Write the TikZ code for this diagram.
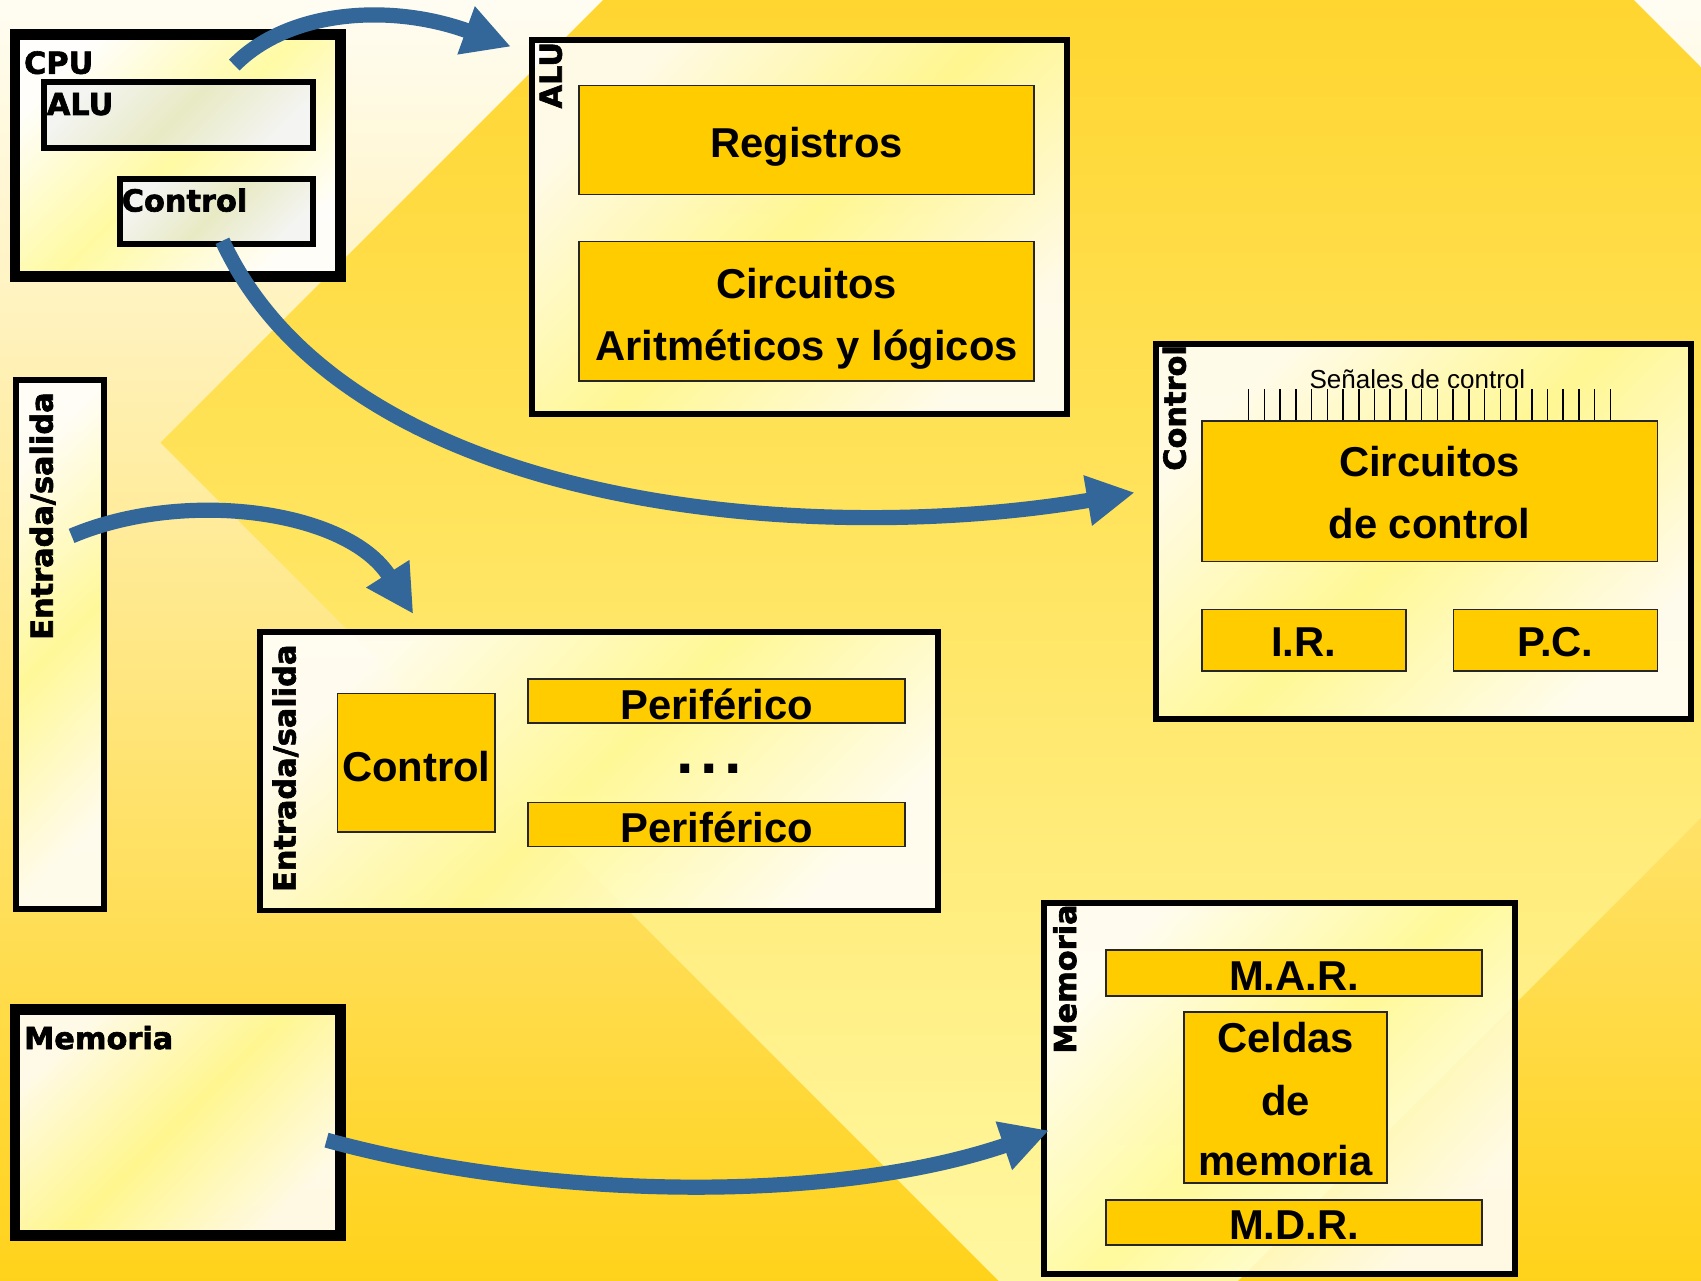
\documentclass[tikz,border=0pt]{standalone}
\usepackage{fontspec}
\setmainfont{Liberation Sans}
\newfontfamily\dvfont{DejaVu Sans}[BoldFeatures={FakeBold=2}]
\usetikzlibrary{arrows.meta,shadings}
\definecolor{gold}{HTML}{FFCC00}
\definecolor{flowblue}{HTML}{336699}
\definecolor{bgtop}{HTML}{FFFDF3}
\definecolor{bgbot}{HTML}{FFD21A}
\definecolor{dmtop}{HTML}{FFD630}
\definecolor{dmbot}{HTML}{FFF7A0}
\definecolor{panelmid}{HTML}{FFFB9C}
\definecolor{graya}{HTML}{E8EAC4}
\definecolor{grayb}{HTML}{F4F4F2}
\tikzset{
  panel/.style={draw=black, line width=5.5pt, top color=white, bottom color=white,
    middle color=panelmid, shading angle=45, fill opacity=0.88, draw opacity=1, inner sep=0pt},
  thickpanel/.style={panel, line width=10pt},
  graybox/.style={draw=black, line width=5.5pt, top color=grayb, bottom color=grayb,
    middle color=graya, shading angle=45, inner sep=0pt},
  goldbox/.style={draw=black!85, line width=1.5pt, fill=gold, inner sep=0pt},
  lbl/.style={font=\dvfont\bfseries\fontsize{28}{30}\selectfont, inner sep=0pt},
  big/.style={font=\bfseries\fontsize{38.5}{46}\selectfont, inner sep=0pt, anchor=base},
  flow/.style={draw=flowblue, line width=14pt, -{Triangle[length=44pt,width=44pt]}},
  tick/.style={draw=black, line width=1.4pt}
}
\begin{document}
\begin{tikzpicture}[x=1pt,y=-1pt]
\useasboundingbox (0,0) rectangle (1568,1180);
% background
\shade[top color=bgtop, bottom color=bgbot] (0,0) rectangle (1568,1180);
\begin{scope}
  \clip (148,408) -- (1031,-475) -- (1914,408) -- (1031,1291) -- cycle;
  \shade[top color=dmtop, bottom color=dmbot] (0,0) rectangle (1568,1180);
\end{scope}

% CPU overview
\node[thickpanel, minimum width=299.8pt, minimum height=222.7pt] (cpu) at (163.7,143.4) {};
\node[graybox, minimum width=247.5pt, minimum height=60.6pt] (cpualu) at (164.5,106.2) {};
\node[graybox, minimum width=177.9pt, minimum height=60.5pt] (cpuctrl) at (199.3,195) {};
\node[lbl, anchor=base west] (cpulbl) at (22,68) {CPU};
\node[lbl, anchor=base west] (cpualulbl) at (43,106) {ALU};
\node[lbl, anchor=base west] (cpuctrllbl) at (112,195) {Control};

% Entrada/salida bar
\node[panel, minimum width=81.8pt, minimum height=487.7pt] (esbar) at (55.4,593.9) {};
\node[lbl, rotate=90, anchor=base east] (esbarlbl) at (48.6,361.5) {Entrada/salida};

% Memoria overview
\node[thickpanel, minimum width=299.8pt, minimum height=208.2pt] (meml) at (163.7,1034.6) {};
\node[lbl, anchor=base west] (memllbl) at (22,967) {Memoria};

% ALU detail
\node[panel, minimum width=492.5pt, minimum height=344.5pt] (alubox) at (737,209) {};
\node[lbl, rotate=90, anchor=base east] (alulbl) at (517.8,38.5) {ALU};
\node[goldbox, minimum width=419.5pt, minimum height=100.5pt] (reg) at (743.5,129) {};
\node[big] (regt) at (743.5,145) {Registros};
\node[goldbox, minimum width=419.5pt, minimum height=128.5pt] (circ) at (743.5,287) {};
\node[big] (circt1) at (743.5,275) {Circuitos};
\node[big] (circt2) at (743.5,332) {Aritméticos y lógicos};

% Control detail
\node[panel, minimum width=493pt, minimum height=345.7pt] (ctrlbox) at (1312.3,489.6) {};
\node[lbl, rotate=90, anchor=base east] (ctrllbl) at (1093,318) {Control};
\foreach \i in {0,...,23} \draw[tick] ({1151+14.5*\i},359) -- ({1151+14.5*\i},387.5);
\node[font=\fontsize{24}{28}\selectfont, inner sep=0pt, anchor=base] (senal) at (1306.6,358) {Señales de control};
\node[goldbox, minimum width=420pt, minimum height=129.4pt] (cdc) at (1317.8,453) {};
\node[big] (cdct1) at (1317.8,439.5) {Circuitos};
\node[big] (cdct2) at (1317.8,496.5) {de control};
\node[goldbox, minimum width=188pt, minimum height=56.5pt] (ir) at (1201.8,590) {};
\node[big] (irt) at (1201.8,605.5) {I.R.};
\node[goldbox, minimum width=188pt, minimum height=56.5pt] (pc) at (1433.9,590) {};
\node[big] (pct) at (1433.9,605.5) {P.C.};

% Entrada/salida detail
\node[panel, minimum width=624.9pt, minimum height=257pt] (esbox) at (551.8,710.8) {};
\node[lbl, rotate=90, anchor=base east] (esboxlbl) at (272.5,594) {Entrada/salida};
\node[goldbox, minimum width=145pt, minimum height=128pt] (esctrl) at (383.7,703.2) {};
\node[big] (esctrlt) at (383.7,720) {Control};
\node[goldbox, minimum width=347.5pt, minimum height=40.5pt] (per1) at (660.5,646) {};
\node[big] (per1t) at (660.5,663) {Periférico};
\node[big, font=\bfseries\fontsize{58}{60}\selectfont] (dots) at (653.5,713) {.\kern6pt.\kern6pt.};
\node[goldbox, minimum width=347.5pt, minimum height=40.5pt] (per2) at (660.5,760) {};
\node[big] (per2t) at (660.5,777) {Periférico};

% Memoria detail
\node[panel, minimum width=433.9pt, minimum height=342pt] (membox) at (1179.3,1003.8) {};
\node[lbl, rotate=90, anchor=base east] (memboxlbl) at (992,833.5) {Memoria};
\node[goldbox, minimum width=346.8pt, minimum height=42.5pt] (mar) at (1192.8,896.8) {};
\node[big] (mart) at (1192.8,912.6) {M.A.R.};
\node[goldbox, minimum width=187.2pt, minimum height=158pt] (celdas) at (1185.2,1011.7) {};
\node[big] (celt1) at (1185.2,970.4) {Celdas};
\node[big] (celt2) at (1185.2,1027.9) {de};
\node[big] (celt3) at (1185.2,1084) {memoria};
\node[goldbox, minimum width=346.8pt, minimum height=41.8pt] (mdr) at (1192.8,1127) {};
\node[big] (mdrt) at (1192.8,1143) {M.D.R.};

% connectors
\coordinate (a1s) at (216,60);   \coordinate (a1e) at (471,43);
\coordinate (a2s) at (205,222);  \coordinate (a2e) at (1046,454);
\coordinate (a3s) at (66,494);   \coordinate (a3e) at (381,566);
\coordinate (a4s) at (301,1051); \coordinate (a4e) at (967,1042);
\draw[flow] (a1s) .. controls (265,10) and (358,2) .. (a1e);
\draw[flow] (a2s) .. controls (320,470) and (746,505) .. (a2e);
\draw[flow] (a3s) .. controls (170,450) and (320,470) .. (a3e);
\draw[flow] (a4s) .. controls (501,1106) and (767,1110) .. (a4e);
\end{tikzpicture}
\end{document}
